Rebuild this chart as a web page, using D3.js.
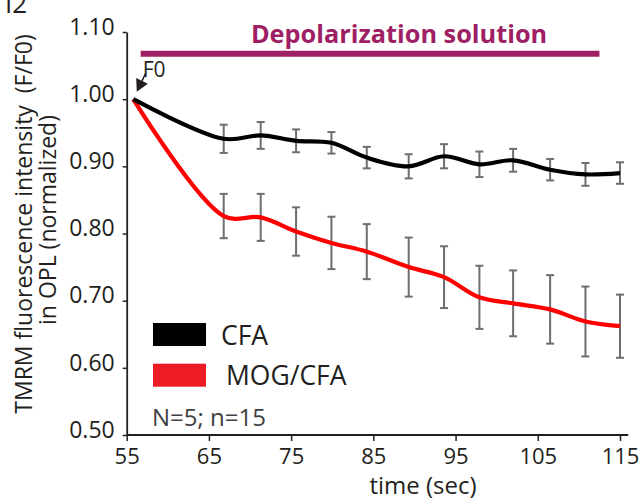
<!DOCTYPE html>
<html>
<head>
<meta charset="utf-8">
<script src="https://cdn.jsdelivr.net/npm/d3@7"></script>
<style>
  body { margin: 0; background: #fff; }
  svg { display: block; font-family: "Open Sans", sans-serif; }
</style>
</head>
<body>
<div id="chart"></div>
<script>
// time points (sec)
var times = [55.8, 66.8, 71.3, 75.6, 79.9, 84.2, 89.3, 93.6, 97.9, 102.0, 106.5, 110.8, 115.0];
var cfaMean = [1.00, 0.941, 0.946, 0.938, 0.935, 0.913, 0.900, 0.915, 0.903, 0.909, 0.895, 0.888, 0.890];
var cfaErr  = [null, 0.021, 0.020, 0.017, 0.016, 0.016, 0.018, 0.018, 0.019, 0.017, 0.016, 0.017, 0.016];
var mogMean = [1.00, 0.826, 0.824, 0.803, 0.786, 0.773, 0.750, 0.735, 0.705, 0.696, 0.687, 0.669, 0.662];
var mogErr  = [null, 0.033, 0.035, 0.036, 0.039, 0.041, 0.044, 0.046, 0.047, 0.049, 0.051, 0.052, 0.047];

var seriesNames = ["CFA", "MOG/CFA"];
var xTicks = [55, 65, 75, 85, 95, 105, 115];
var yTicks = [0.50, 0.60, 0.70, 0.80, 0.90, 1.00, 1.10];
var solution = [56.7, 112.5]; // depolarization solution applied
var solutionLabel = "Depolarization solution";
var noteText = "N=5; n=15";

var width = 643, height = 502;
var ink = "#231f20";

var svg = d3.select("#chart").append("svg")
    .attr("width", width)
    .attr("height", height);

var x = d3.scaleLinear().domain([55, 115]).range([126.7, 620]);
var y = d3.scaleLinear().domain([0.5, 1.1]).range([435, 32]);

// panel letter, cut at the top
svg.append("text")
    .attr("x", 5).attr("y", 13)
    .attr("font-size", 26).attr("fill", ink)
    .text("I2");

// y axis
var yAxis = svg.append("g")
    .attr("transform", "translate(" + x(55) + ",0)")
    .call(d3.axisLeft(y).tickValues(yTicks).tickSize(4).tickSizeOuter(0).tickPadding(8)
        .tickFormat(d3.format(".2f")));
yAxis.select(".domain").attr("stroke", ink).attr("stroke-width", 1.8);
yAxis.selectAll(".tick line").attr("stroke", ink).attr("stroke-width", 1.5);
yAxis.selectAll(".tick text")
    .attr("font-size", 23).attr("fill", ink)
    .attr("font-family", "Open Sans")
    .attr("dy", "0.1em");

// x axis
var xAxis = svg.append("g")
    .attr("transform", "translate(0," + y(0.5) + ")")
    .call(d3.axisBottom(x).tickValues(xTicks).tickSize(6).tickSizeOuter(0).tickPadding(7));
xAxis.select(".domain").remove();
xAxis.append("line")
    .attr("x1", x(55)).attr("x2", x(116))
    .attr("stroke", ink).attr("stroke-width", 1.8);
xAxis.selectAll(".tick line").attr("stroke", ink).attr("stroke-width", 1.5);
xAxis.selectAll(".tick text")
    .attr("font-size", 22).attr("fill", ink)
    .attr("font-family", "Open Sans");

// axis titles
svg.append("text")
    .attr("x", 423).attr("y", 494)
    .attr("text-anchor", "middle")
    .attr("font-size", 24).attr("fill", ink)
    .text("time (sec)");

var yTitle = svg.append("text")
    .attr("transform", "translate(0,224) rotate(-90)")
    .attr("text-anchor", "middle")
    .attr("font-size", 23).attr("fill", ink)
    .style("white-space", "pre");
yTitle.append("tspan").attr("x", 0).attr("y", 32).text("TMRM fluorescence intensity  (F/F0)");
yTitle.append("tspan").attr("x", 4).attr("y", 56).text("in OPL (normalized)");

// depolarization bar + label
svg.append("line")
    .attr("x1", x(solution[0])).attr("x2", x(solution[1]))
    .attr("y1", 53.7).attr("y2", 53.7)
    .attr("stroke", "#9e1f63").attr("stroke-width", 6);
svg.append("text")
    .attr("x", (x(solution[0]) + x(solution[1])) / 2 + 29).attr("y", 43)
    .attr("text-anchor", "middle")
    .attr("font-size", 25.3).attr("font-weight", "bold").attr("fill", "#9e1f63")
    .text(solutionLabel);

// error bars
function errBars(means, errs, cls) {
    var pts = times.map(function (t, i) { return {t: t, m: means[i], e: errs[i]}; })
        .filter(function (d) { return d.e != null; });
    var g = svg.append("g").attr("class", cls)
        .attr("stroke", "#6d6e71").attr("stroke-width", 2);
    g.selectAll("line.v").data(pts).enter().append("line").attr("class", "v")
        .attr("x1", function (d) { return x(d.t); }).attr("x2", function (d) { return x(d.t); })
        .attr("y1", function (d) { return y(d.m + d.e); }).attr("y2", function (d) { return y(d.m - d.e); });
    g.selectAll("line.top").data(pts).enter().append("line").attr("class", "top")
        .attr("x1", function (d) { return x(d.t) - 4; }).attr("x2", function (d) { return x(d.t) + 4; })
        .attr("y1", function (d) { return y(d.m + d.e); }).attr("y2", function (d) { return y(d.m + d.e); });
    g.selectAll("line.bot").data(pts).enter().append("line").attr("class", "bot")
        .attr("x1", function (d) { return x(d.t) - 4; }).attr("x2", function (d) { return x(d.t) + 4; })
        .attr("y1", function (d) { return y(d.m - d.e); }).attr("y2", function (d) { return y(d.m - d.e); });
}
errBars(cfaMean, cfaErr, "err-cfa");
errBars(mogMean, mogErr, "err-mog");

// smoothed lines
var line = d3.line()
    .x(function (d) { return x(d[0]); })
    .y(function (d) { return y(d[1]); })
    .curve(d3.curveCatmullRom.alpha(0.5));

svg.append("path")
    .datum(d3.zip(times, mogMean))
    .attr("d", line)
    .attr("fill", "none").attr("stroke", "#ff0000").attr("stroke-width", 4.2);
svg.append("path")
    .datum(d3.zip(times, cfaMean))
    .attr("d", line)
    .attr("fill", "none").attr("stroke", "#000").attr("stroke-width", 4.2);

// F0 marker
var px = x(times[0]), py = y(cfaMean[0]);
var tip = [px + 3.5, py - 7.5], tail = [px + 12.5, py - 26];
var dx = tip[0] - tail[0], dy = tip[1] - tail[1], len = Math.sqrt(dx * dx + dy * dy);
var ux = dx / len, uy = dy / len;
var bx = tip[0] - 12 * ux, by = tip[1] - 12 * uy;
svg.append("line")
    .attr("x1", tail[0]).attr("y1", tail[1]).attr("x2", bx).attr("y2", by)
    .attr("stroke", ink).attr("stroke-width", 1.5);
svg.append("path")
    .attr("d", "M" + tip[0] + "," + tip[1] +
        "L" + (bx + 6.5 * uy) + "," + (by - 6.5 * ux) +
        "L" + (bx - 6.5 * uy) + "," + (by + 6.5 * ux) + "Z")
    .attr("fill", ink);
svg.append("text")
    .attr("x", px + 9.5).attr("y", 77)
    .attr("font-size", 21).attr("fill", ink)
    .text("F0");

// legend
var legend = svg.append("g").attr("transform", "translate(153,323)");
var legColors = ["#000000", "#ed1c24"];
legend.selectAll("rect").data(seriesNames).enter().append("rect")
    .attr("x", 0).attr("y", function (d, i) { return i * 40.7; })
    .attr("width", 53).attr("height", 23)
    .attr("fill", function (d, i) { return legColors[i]; });
legend.selectAll("text").data(seriesNames).enter().append("text")
    .attr("x", function (d, i) { return i === 0 ? 68 : 73; })
    .attr("y", function (d, i) { return 22 + i * 40; })
    .attr("font-size", 26.5).attr("fill", ink)
    .text(function (d) { return d; });

svg.append("text")
    .attr("x", 152).attr("y", 426)
    .attr("font-size", 24).attr("fill", "#414042")
    .text(noteText);
</script>
</body>
</html>
